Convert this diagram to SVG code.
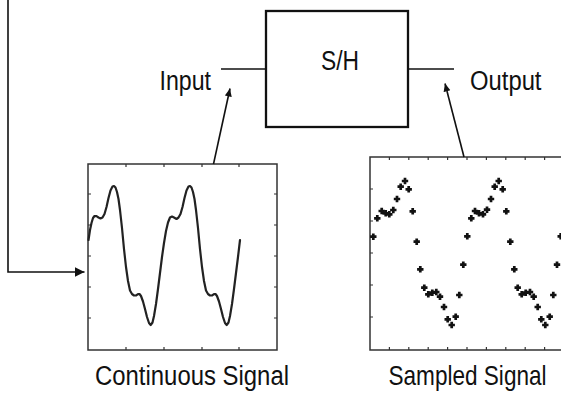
<svg xmlns="http://www.w3.org/2000/svg" width="561" height="397" viewBox="0 0 561 397">
  <style>
    .lbl { font-family: "Liberation Sans", Arial, sans-serif; font-size: 27px; fill: #111; }
    .frame { fill: none; stroke: #333; stroke-width: 1.5; }
    .tick { stroke: #333; stroke-width: 1.2; fill: none; }
    .wire { fill: none; stroke: #111; stroke-width: 1.6; }
    .sig { fill: none; stroke: #222; stroke-width: 2.2; stroke-linejoin: round; stroke-linecap: round; }
  </style>
  <defs>
    <marker id="bigArrow" markerUnits="userSpaceOnUse" markerWidth="12" markerHeight="12" refX="10" refY="6" orient="auto">
      <path d="M0,1 L10,6 L0,11 Z" fill="#111"/>
    </marker>
    <marker id="smallArrow" markerUnits="userSpaceOnUse" markerWidth="10" markerHeight="10" refX="8" refY="5" orient="auto">
      <path d="M0,1.5 L8,5 L0,8.5 Z" fill="#111"/>
    </marker>
    <path id="pt" d="M-3.2,0H3.2M0,-3.2V3.2" stroke="#111" stroke-width="2.7"/>
  </defs>

  <rect width="561" height="397" fill="#fff"/>

  <!-- sample-and-hold block -->
  <g id="sh">
    <rect x="266" y="11" width="142" height="116" fill="#fff" stroke="#111" stroke-width="2.3"/>
    <text class="lbl" x="340" y="69.5" text-anchor="middle" textLength="38" lengthAdjust="spacingAndGlyphs">S/H</text>
  </g>

  <!-- port labels -->
  <g id="input">
    <text class="lbl" x="159.5" y="89.5" textLength="51.5" lengthAdjust="spacingAndGlyphs">Input</text>
  </g>
  <g id="output">
    <text class="lbl" x="470" y="89.5" textLength="71.5" lengthAdjust="spacingAndGlyphs">Output</text>
  </g>

  <!-- continuous signal plot -->
  <g id="continuous">
    <rect class="frame" x="88" y="164" width="189" height="186"/>
    <path class="tick" d="M126,164v3M164,164v3M202,164v3M239,164v3
                          M126,350v-3M164,350v-3M202,350v-3M239,350v-3
                          M88,194h3M88,225h3M88,256h3M88,287h3M88,318h3
                          M277,194h-3M277,225h-3M277,256h-3M277,287h-3M277,318h-3"/>
    <path class="sig" d="M88.5,240 L90,230 L91.5,223 L93,218 L94.5,216 L96.5,216.2 L98.5,217.5 L100.5,218.5 L102.5,217.5
      L104.5,214 L106.5,207 L108.5,198 L110.5,190.5 L112.5,186.5 L114,186 L115.5,187.5 L117,192 L118.5,199 L120,210
      L122,228 L124,249 L126,267 L128,281 L130,290.5 L132,294 L134,295.5 L136,295.5 L138,294.2 L139.5,294 L141,296
      L143,301.5 L145,309 L147,317 L149,323 L150.7,325 L152.5,322.5 L154,316 L156,304 L158,289 L160,273 L162,257
      L164,243 L166,231 L168,222.5 L170,217.5 L172,216.5 L174,217.5 L176.5,219 L178.5,217.5
      L180.5,214 L182.5,207 L184.5,198 L186.5,190.5 L188.5,186.5 L190,186 L191.5,187.5 L193,192 L194.5,199 L196,210
      L198,228 L200,249 L202,267 L204,281 L206,290.5 L208,294 L210,295.5 L212,295.5 L214,294.2 L215.5,294 L217,296
      L219,301.5 L221,309 L223,317 L225,323 L226.7,325 L228.5,322.5 L230,316 L232,304 L234,289 L236,273 L238,257 L240,240"/>
    <text class="lbl" x="95" y="385" textLength="194" lengthAdjust="spacingAndGlyphs">Continuous Signal</text>
  </g>

  <!-- sampled signal plot (frame runs off the right edge) -->
  <g id="sampled">
    <path class="frame" d="M561,157 H370 V350 H561"/>
    <path class="tick" d="M389.4,157v3M408.8,157v3M428.2,157v3M447.6,157v3M467,157v3M486.4,157v3M505.8,157v3M525.2,157v3M544.6,157v3
                          M389.4,350v-3M408.8,350v-3M428.2,350v-3M447.6,350v-3M467,350v-3M486.4,350v-3M505.8,350v-3M525.2,350v-3M544.6,350v-3
                          M370,189h3M370,221h3M370,253h3M370,285h3M370,317h3"/>
    <g id="samples">
      <use href="#pt" x="373.3" y="236.7"/>
      <use href="#pt" x="377.3" y="218.3"/>
      <use href="#pt" x="381.7" y="211"/>
      <use href="#pt" x="385.7" y="213.3"/>
      <use href="#pt" x="389.3" y="214.3"/>
      <use href="#pt" x="393.3" y="210"/>
      <use href="#pt" x="397" y="199"/>
      <use href="#pt" x="400.7" y="186.7"/>
      <use href="#pt" x="405" y="181"/>
      <use href="#pt" x="408.7" y="189.3"/>
      <use href="#pt" x="412.7" y="211.3"/>
      <use href="#pt" x="416.7" y="241.7"/>
      <use href="#pt" x="420.3" y="269.3"/>
      <use href="#pt" x="424.3" y="287.7"/>
      <use href="#pt" x="428.3" y="294.3"/>
      <use href="#pt" x="432.3" y="292.7"/>
      <use href="#pt" x="436.3" y="292"/>
      <use href="#pt" x="440" y="296.7"/>
      <use href="#pt" x="444" y="307"/>
      <use href="#pt" x="447.7" y="319.3"/>
      <use href="#pt" x="451.7" y="325"/>
      <use href="#pt" x="455.7" y="316.7"/>
      <use href="#pt" x="459.3" y="295"/>
      <use href="#pt" x="463.3" y="264.7"/>
      <use href="#pt" x="467.3" y="236.3"/>
      <use href="#pt" x="471.3" y="218.3"/>
      <use href="#pt" x="475" y="211"/>
      <use href="#pt" x="479" y="213.3"/>
      <use href="#pt" x="483" y="214.3"/>
      <use href="#pt" x="487" y="209.7"/>
      <use href="#pt" x="491" y="199"/>
      <use href="#pt" x="494.7" y="186.7"/>
      <use href="#pt" x="498.7" y="181"/>
      <use href="#pt" x="502.7" y="189.3"/>
      <use href="#pt" x="506.3" y="211.3"/>
      <use href="#pt" x="510.3" y="241.7"/>
      <use href="#pt" x="514.3" y="269.3"/>
      <use href="#pt" x="517.7" y="287.7"/>
      <use href="#pt" x="521.7" y="294.3"/>
      <use href="#pt" x="525.7" y="292.7"/>
      <use href="#pt" x="530" y="292"/>
      <use href="#pt" x="533.7" y="296.7"/>
      <use href="#pt" x="537.7" y="307"/>
      <use href="#pt" x="541.3" y="319.3"/>
      <use href="#pt" x="545.3" y="325"/>
      <use href="#pt" x="549.7" y="316.7"/>
      <use href="#pt" x="553.3" y="295"/>
      <use href="#pt" x="557" y="264.7"/>
      <use href="#pt" x="560.7" y="236.3"/>
    </g>
    <text class="lbl" transform="translate(388.5,385) scale(0.836,1)" x="0" y="0">Sampled Signal</text>
  </g>

  <!-- connectors -->
  <g id="connectors">
    <path class="wire" d="M221,69 H266"/>
    <path class="wire" d="M408,69 H454"/>
    <path class="wire" d="M213.5,164 L230,88.5" marker-end="url(#smallArrow)"/>
    <path class="wire" d="M464,157 L445,83.5" marker-end="url(#smallArrow)"/>
    <path class="wire" stroke-width="2" d="M8,0 V272 H84.5" marker-end="url(#bigArrow)"/>
  </g>
</svg>
